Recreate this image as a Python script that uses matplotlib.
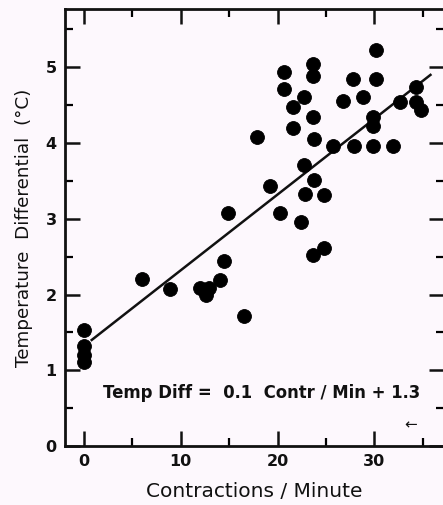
import matplotlib
matplotlib.use("Agg")
import matplotlib.pyplot as plt
from matplotlib.ticker import MultipleLocator

# Data
contractions = [0, 0, 0, 0, 6.0, 8.9, 12.0, 12.9, 12.6, 14.1, 14.5, 14.9, 16.5,
                17.9, 19.2, 20.3, 20.7, 20.7, 21.6, 21.6, 22.4, 22.7, 22.75, 22.85,
                23.7, 23.7, 23.7, 23.8, 23.8, 23.7, 24.75, 24.85, 25.7, 26.8, 27.8,
                27.85, 28.8, 29.85, 29.85, 29.85, 30.2, 30.2, 31.9, 32.7, 34.3,
                34.3, 34.8]
temp_diff = [1.53, 1.32, 1.20, 1.11, 2.20, 2.07, 2.08, 2.08, 1.99, 2.19, 2.44, 3.07,
             1.72, 4.08, 3.43, 3.08, 4.94, 4.72, 4.47, 4.20, 2.96, 3.71, 4.61, 3.33,
             5.05, 4.88, 4.35, 4.05, 3.51, 2.52, 2.61, 3.32, 3.96, 4.55, 4.85,
             3.96, 4.61, 4.34, 4.22, 3.96, 4.85, 5.23, 3.96, 4.54, 4.74,
             4.54, 4.44]

fit_x = [0.8, 35.8]
fit_y = [1.40, 4.90]

x_ticks = [0, 10, 20, 30]
y_ticks = [0, 1, 2, 3, 4, 5]

bg = "#fdf8fd"
W, H = 443, 505
fig = plt.figure(figsize=(W / 100, H / 100), dpi=100, facecolor=bg)
ax = fig.add_axes([65 / W, 59 / H, (444 - 65) / W, (446 - 9) / H])
ax.set_facecolor(bg)

ax.plot(fit_x, fit_y, color="#111111", lw=1.8, zorder=2)
ax.plot(contractions, temp_diff, "o", color="#000000", ms=10, mec="#000000",
        mew=0.6, zorder=3, clip_on=False)

ax.set_xlim(-1.96, 37.2)
ax.set_ylim(0, 5.77)
ax.set_xticks(x_ticks)
ax.set_yticks(y_ticks)
ax.xaxis.set_minor_locator(MultipleLocator(5))
ax.yaxis.set_minor_locator(MultipleLocator(0.5))

ax.tick_params(which="major", direction="in", length=11, width=1.8,
               top=True, right=True, labelsize=11.5, pad=6, colors="#111111")
ax.tick_params(which="minor", direction="in", length=5.5, width=1.6,
               top=True, right=True)
for lab in ax.get_xticklabels() + ax.get_yticklabels():
    lab.set_fontweight("bold")

for s in ax.spines.values():
    s.set_linewidth(2.0)
    s.set_color("#111111")

ax.set_xlabel("Contractions / Minute", fontsize=14.5, labelpad=9, color="#111111")
ax.set_ylabel("Temperature  Differential  (°C)", fontsize=13.2, labelpad=9,
              color="#111111")

ax.text(2.0, 0.70, "Temp Diff =  0.1  Contr / Min + 1.3", fontsize=11.9,
        fontweight="bold", va="center", ha="left", color="#111111")
ax.text(33.7, 0.28, "←", fontsize=11, va="center", ha="center", color="#111111")

fig.savefig("out.png", dpi=100, facecolor=bg)
